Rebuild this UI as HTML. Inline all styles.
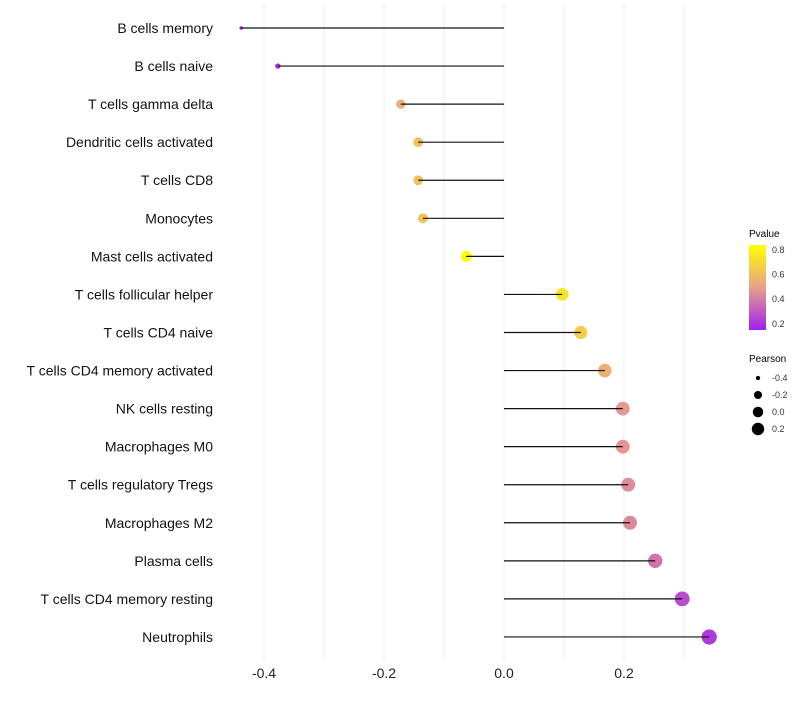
<!DOCTYPE html>
<html><head><meta charset="utf-8"><style>
body{margin:0;background:#fff;font-family:"Liberation Sans",sans-serif}
</style></head><body>
<svg id="chart" width="800" height="700" xmlns="http://www.w3.org/2000/svg" font-family="Liberation Sans, sans-serif">
<defs><linearGradient id="pg" x1="0" y1="1" x2="0" y2="0">
<stop offset="0" stop-color="#A020F0"/><stop offset="0.5" stop-color="#E8A08A"/><stop offset="1" stop-color="#FFFF00"/>
</linearGradient></defs>
<g id="grid"></g><g id="points"></g><g id="stems"></g><g id="ylabels"></g><g id="xlabels"></g>
<g id="legend">
<text x="749" y="237" font-size="10">Pvalue</text>
<rect x="749" y="245" width="17" height="85" fill="url(#pg)"/>
<g id="pticks"></g>
<text x="749" y="362" font-size="10">Pearson</text>
<g id="sizelegend"></g>
</g>
</svg>
<script>
const categories=["B cells memory","B cells naive","T cells gamma delta","Dendritic cells activated","T cells CD8","Monocytes","Mast cells activated","T cells follicular helper","T cells CD4 naive","T cells CD4 memory activated","NK cells resting","Macrophages M0","T cells regulatory  Tregs ","Macrophages M2","Plasma cells","T cells CD4 memory resting","Neutrophils"];
const pearson=[-0.438,-0.377,-0.172,-0.143,-0.143,-0.135,-0.063,0.097,0.128,0.168,0.198,0.198,0.207,0.21,0.252,0.297,0.342];
const pvalue=[0.15,0.2,0.55,0.62,0.62,0.63,0.84,0.75,0.67,0.55,0.48,0.47,0.45,0.44,0.38,0.27,0.22];
const xTicks=[-0.4,-0.2,0,0.2];
const xMinor=[-0.3,-0.1,0.1,0.3];
const pTicks=[0.2,0.4,0.6,0.8];
const sizeTicks=[-0.4,-0.2,0,0.2];
const NS="http://www.w3.org/2000/svg";
const x=v=>504+v*600;
const y=i=>28+i*38.06;
const r=v=>Math.sqrt(3.2+70*(v+0.438));
const py=p=>330-(p-0.15)/0.69*85;
function lerp(a,b,t){return a.map((c,i)=>Math.round(c+(b[i]-c)*t));}
function col(p){const t=Math.max(0,Math.min(1,(p-0.15)/0.7));
 const c0=[160,32,240],c1=[232,160,138],c2=[255,255,0];
 const c=t<0.5?lerp(c0,c1,t*2):lerp(c1,c2,(t-0.5)*2);return `rgb(${c})`;}
function mk(tag,at,parent){const e=document.createElementNS(NS,tag);for(const k in at)e.setAttribute(k,at[k]);parent.appendChild(e);return e;}
const G=document.getElementById('grid'),P=document.getElementById('points'),S=document.getElementById('stems'),YL=document.getElementById('ylabels'),XL=document.getElementById('xlabels');
xTicks.concat(xMinor).forEach(v=>{const l=mk('line',{x1:x(v),x2:x(v),y1:5,y2:660,stroke:'#ebebeb','stroke-width':1},G);

});
xTicks.forEach(v=>{const t=mk('text',{x:x(v),y:678,'font-size':14,'text-anchor':'middle',fill:'#222'},XL);t.textContent=v===0?'0.0':v.toFixed(1);

});
categories.forEach((c,i)=>{
 const t=mk('text',{x:213,y:y(i)+5,'font-size':14,'text-anchor':'end',fill:'#111'},YL);t.textContent=c;
 
 
 const d=mk('circle',{cx:x(pearson[i]),cy:y(i),r:r(pearson[i]),fill:col(pvalue[i])},P);
 
 
 const l=mk('line',{x1:x(0),x2:x(pearson[i]),y1:y(i),y2:y(i),stroke:'#111','stroke-width':1.2},S);
 
 
});
const PT=document.getElementById('pticks');
pTicks.forEach(p=>{const t=mk('text',{x:772,y:py(p)+3,'font-size':9,fill:'#333'},PT);t.textContent=p.toFixed(1);

});
const SL=document.getElementById('sizelegend');
sizeTicks.forEach((v,i)=>{const cy=378+i*17;
 const c=mk('circle',{cx:758,cy:cy,r:r(v)*0.9,fill:'#000'},SL);
 
 
 const t=mk('text',{x:772,y:cy+3,'font-size':9,fill:'#333'},SL);t.textContent=v===0?'0.0':v.toFixed(1);
 
 });
</script>
</body></html>
